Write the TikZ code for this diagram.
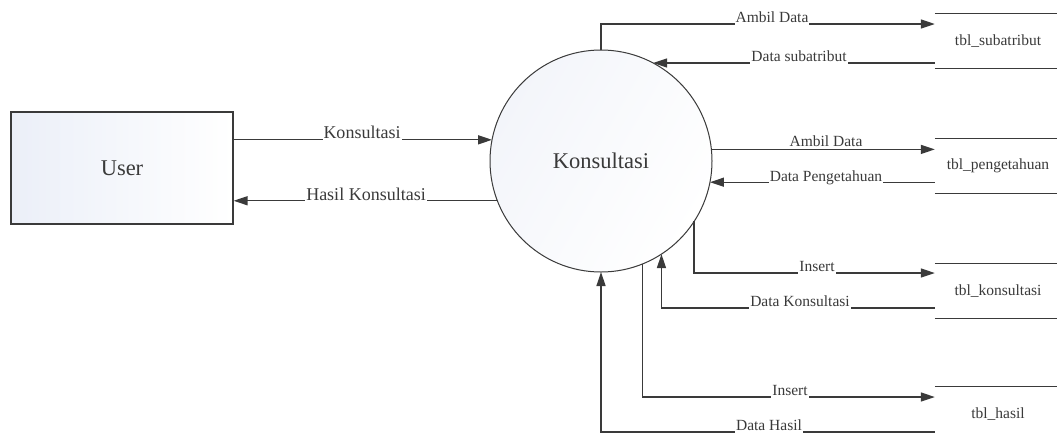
\documentclass[tikz,border=0pt]{standalone}
\usepackage{fontspec}
\setmainfont{Liberation Serif}
\usetikzlibrary{arrows.meta}
\definecolor{ink}{HTML}{3A3A3A}
\definecolor{pale}{HTML}{EBEFF8}
\definecolor{paler}{HTML}{F3F5FA}
\begin{document}
\begin{tikzpicture}[x=1pt,y=-1pt,
  flow/.style={draw=ink, line width=1.3pt, -{Triangle[length=14pt,width=9pt]}},
  rule/.style={draw=ink, line width=1.3pt},
  lbl/.style={fill=white, inner xsep=1pt, inner ysep=3pt, anchor=base, text=ink,
    font=\fontsize{15.5}{16}\selectfont},
  biglbl/.style={lbl, font=\fontsize{18}{18}\selectfont},
  entity/.style={rectangle, draw=ink, line width=1.2pt, minimum width=222pt,
    minimum height=112pt, left color=pale, right color=white, text=ink,
    font=\fontsize{22.5}{23}\selectfont},
  process/.style={circle, draw=ink, line width=1pt, minimum size=222pt,
    inner sep=0pt, outer sep=0pt, left color=paler, right color=white,
    shading angle=60, text=ink, font=\fontsize{22.5}{23}\selectfont},
  store/.style={rectangle, minimum width=126pt, minimum height=54pt,
    inner sep=0pt, text=ink, font=\fontsize{15.5}{16}\selectfont},
]
\useasboundingbox (0,0) rectangle (1057,440);
\fill[white] (0,0) rectangle (1057,440);

% external entity and process
\node[entity] (U) at (122,168) {User};
\node[process] (K) at (601,161) {Konsultasi};

% data stores (open-ended: top and bottom lines only)
\node[store] (S1) at (998,41) {tbl\_subatribut};
\node[store] (S2) at (998,166) {tbl\_pengetahuan};
\node[store] (S3) at (998,291) {tbl\_konsultasi};
\node[store] (S4) at (998,414) {tbl\_hasil};
\foreach \s in {S1,S2,S3,S4}{
  \draw[rule] (\s.north west) -- (\s.north east);
  \draw[rule] (\s.south west) -- (\s.south east);
}

% flows between user and process
\draw[flow] (U.east |- K.169.1) -- (K.169.1);
\draw[flow] (K.201.7) -- (U.east |- K.201.7);

% flows between process and stores
\draw[flow] (K.north) |- ([yshift=17pt]S1.west);
\draw[flow] (S1.west |- K.62) -- (K.62);
\draw[flow] (K.6.7) -- (S2.west |- K.6.7);
\draw[flow] (S2.west |- K.-11.4) -- (K.-11.4);
\draw[flow] (K.-33.1) |- ([yshift=18pt]S3.west);
\draw[flow] ([yshift=-17pt]S3.west) -| (K.-57.9);
\draw[flow] (K.-68.9) |- ([yshift=17pt]S4.west);
\draw[flow] ([yshift=-18pt]S4.west) -| (K.south);

% flow labels
\node[biglbl] (l1) at (362,138) {Konsultasi};
\node[biglbl] (l2) at (366,200) {Hasil Konsultasi};
\node[lbl] (l3) at (772,22) {Ambil Data};
\node[lbl] (l4) at (799,61) {Data subatribut};
\node[lbl] (l5) at (826,146) {Ambil Data};
\node[lbl] (l6) at (826,181) {Data Pengetahuan};
\node[lbl] (l7) at (817,271) {Insert};
\node[lbl] (l8) at (800,306) {Data Konsultasi};
\node[lbl] (l9) at (790,395) {Insert};
\node[lbl] (l10) at (769,430) {Data Hasil};
\end{tikzpicture}
\end{document}
